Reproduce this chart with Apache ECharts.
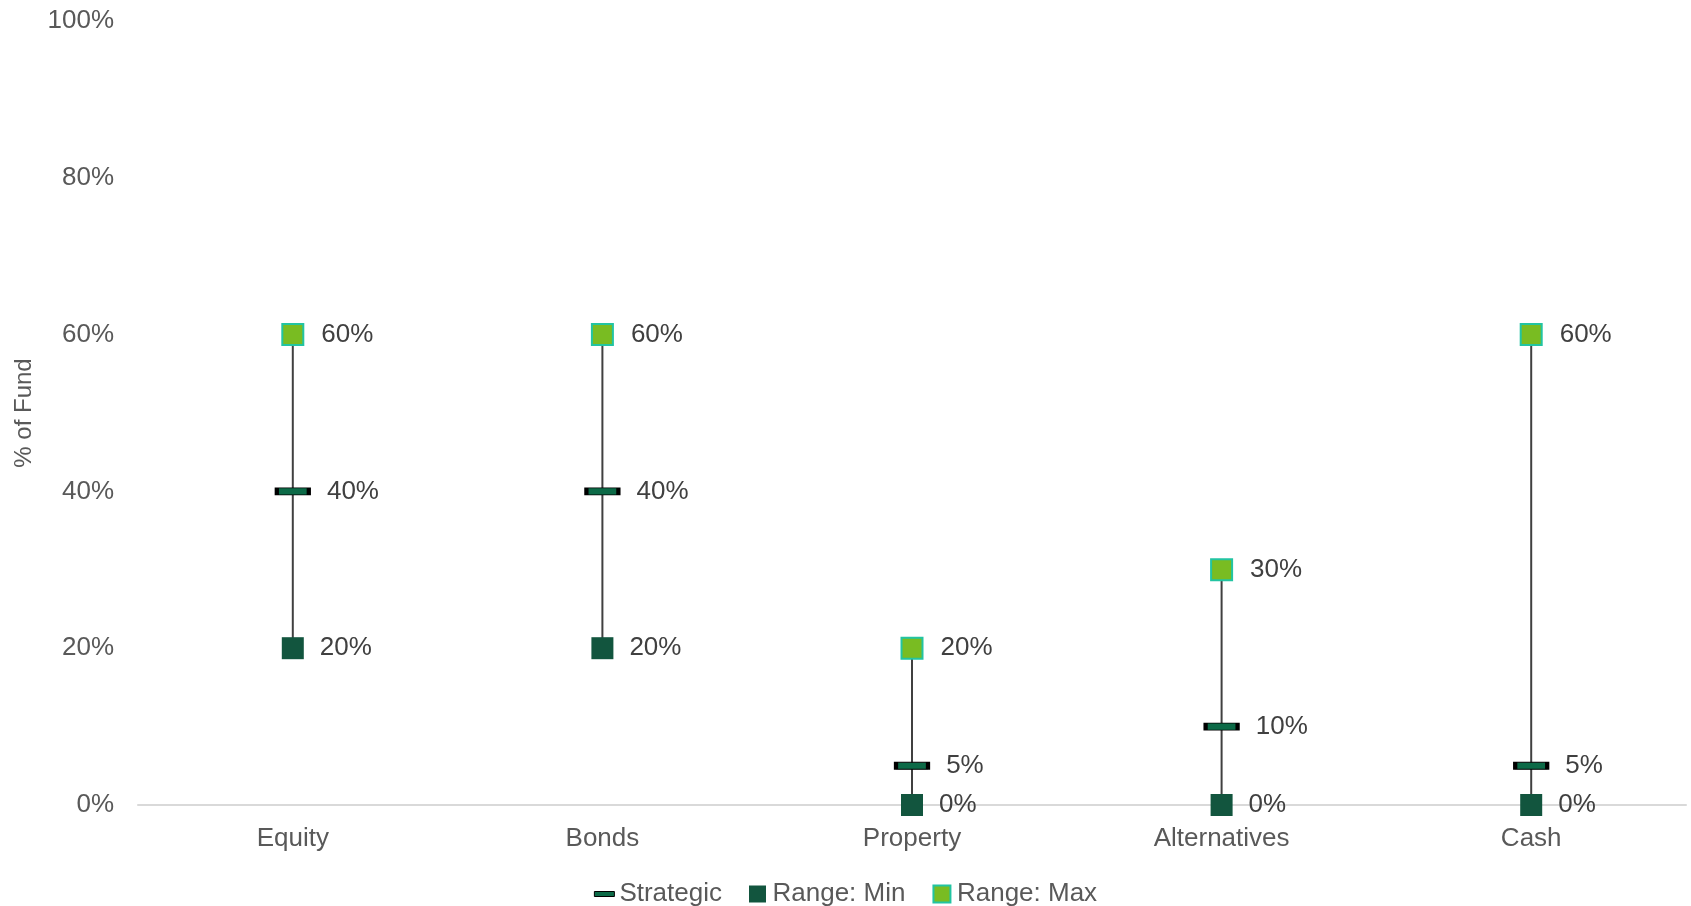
<!DOCTYPE html>
<html>
<head>
<meta charset="utf-8">
<title>Asset allocation ranges</title>
<script src="https://cdn.jsdelivr.net/npm/echarts@6/dist/echarts.min.js"></script>
<style>
  html, body { margin: 0; padding: 0; background: #ffffff; }
  #chart { width: 1691px; height: 906px; }
</style>
</head>
<body>
<div id="chart"></div>
<script>
// Asset classes and their allocation bands (% of fund)
const categories = ['Equity', 'Bonds', 'Property', 'Alternatives', 'Cash'];
const strategic = [40, 40, 5, 10, 5];
const rangeMin = [20, 20, 0, 0, 0];
const rangeMax = [60, 60, 20, 30, 60];
const yTicks = { min: 0, max: 100, interval: 20 };

const FONT = '"Liberation Sans", Arial, Helvetica, sans-serif';
const AXIS_TEXT = '#595959';
const LABEL_TEXT = '#404040';
const FS = 26;

const pct = p => p.value[1] + '%';

const chart = echarts.init(document.getElementById('chart'), null, { renderer: 'canvas' });

chart.setOption({
  backgroundColor: '#ffffff',
  animation: false,
  textStyle: { fontFamily: FONT },
  grid: { left: 138, right: 5, top: 21, bottom: 101 },
  legend: {
    top: 876,
    left: 'center',
    itemWidth: 20,
    itemHeight: 17,
    itemGap: 27,
    textStyle: { fontFamily: FONT, fontSize: FS, color: AXIS_TEXT },
    data: [
      { name: 'Strategic', icon: 'path://M0,0H40V10H0Z', itemStyle: { borderWidth: 1 } },
      { name: 'Range: Min', icon: 'path://M0,0H10V10H0Z' },
      { name: 'Range: Max', icon: 'path://M0,0H10V10H0Z' }
    ]
  },
  xAxis: {
    type: 'category',
    data: categories,
    boundaryGap: true,
    axisLine: { show: true, lineStyle: { color: '#d9d9d9', width: 2 } },
    axisTick: { show: false },
    axisLabel: { fontFamily: FONT, fontSize: FS, color: AXIS_TEXT, margin: 21 },
    splitLine: { show: false }
  },
  yAxis: {
    type: 'value',
    min: yTicks.min,
    max: yTicks.max,
    interval: yTicks.interval,
    name: '% of Fund',
    nameLocation: 'middle',
    nameGap: 102,
    nameRotate: 90,
    nameTextStyle: { fontFamily: FONT, fontSize: 24, color: AXIS_TEXT },
    axisLine: { show: false },
    axisTick: { show: false },
    splitLine: { show: false },
    axisLabel: { fontFamily: FONT, fontSize: FS, color: AXIS_TEXT, margin: 24, formatter: '{value}%' }
  },
  series: [
    {
      // vertical line joining each band's min and max
      name: 'range-line',
      type: 'custom',
      z: 1,
      silent: true,
      data: categories.map((c, i) => [i, rangeMin[i], rangeMax[i]]),
      renderItem: (params, api) => {
        const lo = api.coord([api.value(0), api.value(1)]);
        const hi = api.coord([api.value(0), api.value(2)]);
        return {
          type: 'line',
          shape: { x1: lo[0], y1: lo[1], x2: hi[0], y2: hi[1] },
          style: { stroke: '#404040', lineWidth: 2 }
        };
      }
    },
    {
      name: 'Strategic',
      type: 'scatter',
      z: 3,
      symbol: 'rect',
      symbolSize: [32, 7],
      itemStyle: { color: '#0c6a47', borderColor: '#000000', borderWidth: 2, opacity: 1 },
      label: { show: true, position: 'right', distance: 16, formatter: pct,
               fontFamily: FONT, fontSize: FS, color: LABEL_TEXT },
      data: categories.map((c, i) => [i, strategic[i]])
    },
    {
      name: 'Range: Min',
      type: 'scatter',
      z: 3,
      symbol: 'rect',
      symbolSize: 22,
      itemStyle: { color: '#12553e', opacity: 1 },
      label: { show: true, position: 'right', distance: 16, formatter: pct,
               fontFamily: FONT, fontSize: FS, color: LABEL_TEXT },
      data: categories.map((c, i) => [i, rangeMin[i]])
    },
    {
      name: 'Range: Max',
      type: 'scatter',
      z: 3,
      symbol: 'rect',
      symbolSize: 21,
      itemStyle: { color: '#79bc22', borderColor: '#22c4a2', borderWidth: 2, opacity: 1 },
      label: { show: true, position: 'right', distance: 17, formatter: pct,
               fontFamily: FONT, fontSize: FS, color: LABEL_TEXT },
      data: categories.map((c, i) => [i, rangeMax[i]])
    }
  ]
});
</script>
</body>
</html>
